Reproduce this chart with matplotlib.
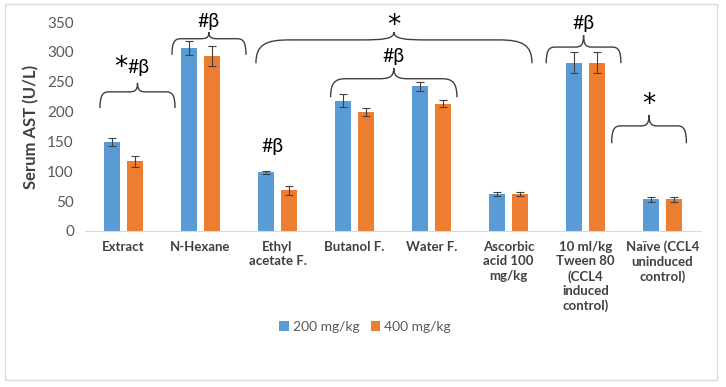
import matplotlib
matplotlib.use('Agg')
import matplotlib.pyplot as plt
from matplotlib.path import Path
from matplotlib.patches import PathPatch, Rectangle
import numpy as np

plt.rcParams['font.family'] = ['Lato', 'DejaVu Sans']

# data
groups = ['Extract', 'N-Hexane', 'Ethyl\nacetate F.', 'Butanol F.', 'Water F.',
          'Ascorbic\nacid 100\nmg/kg', '10 ml/kg\nTween 80\n(CCL4\ninduced\ncontrol)',
          'Naïve (CCL4\nuninduced\ncontrol)']
dose200 = [149, 307, 98, 218, 242, 62, 282, 53]
err200 = [7, 12, 3, 11, 7, 3, 17, 4]
dose400 = [117, 293, 68, 199, 213, 62, 282, 53]
err400 = [9, 16, 8, 7, 6, 3, 17, 4]
series_names = ['200 mg/kg', '400 mg/kg']

# braces: (x0, x1, leg end, flat line, tip)
braces = [(-0.305, 0.669, 206, 233, 248),
          (0.63, 1.59, 295, 322, 333),
          (1.72, 5.305, 281, 320, 333),
          (2.69, 4.33, 224, 255, 273),
          (5.49, 6.46, 281, 308, 328),
          (6.34, 7.31, 147, 176, 194)]
# significance marks: x, y, text
hash_marks = [(0.2, 273, '#β'), (1.11, 350, '#β'), (3.51, 292, '#β'),
              (5.97, 348, '#β'), (1.93, 141, '#β')]
star_marks = [(-0.03, 273), (3.51, 344), (6.82, 211)]

blue = '#5B9BD5'
orange = '#ED7D31'

fig = plt.figure(figsize=(7.26, 3.87), dpi=100)
ax = fig.add_axes([85 / 726, 156 / 387, 616 / 726, 209 / 387])

x = np.arange(len(groups))
w = 0.214
off = 0.146
ax.bar(x - off, dose200, w, color=blue, label=series_names[0], zorder=2)
ax.bar(x + off, dose400, w, color=orange, label=series_names[1], zorder=2)
ax.errorbar(x - off, dose200, yerr=err200, fmt='none', ecolor='#404040',
            elinewidth=0.8, capsize=3, capthick=0.8, zorder=3)
ax.errorbar(x + off, dose400, yerr=err400, fmt='none', ecolor='#404040',
            elinewidth=0.8, capsize=3, capthick=0.8, zorder=3)

ax.set_xlim(-0.5, len(groups) - 0.5)
ax.set_ylim(0, 350)
ax.set_yticks(np.arange(0, 351, 50))
ax.set_xticks(x)
ax.set_xticklabels(groups, fontsize=9.5, fontweight='bold', color='#404040',
                   linespacing=1.25)
ax.tick_params(axis='both', length=0)
ax.tick_params(axis='x', pad=7)
ax.tick_params(axis='y', labelsize=11, labelcolor='#595959', pad=8)
for s in ['top', 'right', 'left']:
    ax.spines[s].set_visible(False)
ax.spines['bottom'].set_color('#D9D9D9')
ax.set_ylabel('Serum AST (U/L)', fontsize=12, fontweight='bold', color='#404040',
              labelpad=6)


def brace(x0, x1, yb, yl, yt):
    xm = (x0 + x1) / 2
    q = (x1 - x0) * 0.12
    verts = [(x0, yb),
             (x0, yb + 0.8 * (yl - yb)), (x0 + q * 0.3, yl), (x0 + q, yl),
             (xm - q, yl),
             (xm - q * 0.35, yl), (xm, yl + 0.1 * (yt - yl)), (xm, yt),
             (xm, yl + 0.1 * (yt - yl)), (xm + q * 0.35, yl), (xm + q, yl),
             (x1 - q, yl),
             (x1 - q * 0.3, yl), (x1, yb + 0.8 * (yl - yb)), (x1, yb)]
    codes = [Path.MOVETO, Path.CURVE4, Path.CURVE4, Path.CURVE4, Path.LINETO,
             Path.CURVE4, Path.CURVE4, Path.CURVE4,
             Path.CURVE4, Path.CURVE4, Path.CURVE4, Path.LINETO,
             Path.CURVE4, Path.CURVE4, Path.CURVE4]
    ax.add_patch(PathPatch(Path(verts, codes), fill=False, edgecolor='#404040',
                           linewidth=1, clip_on=False))


for b in braces:
    brace(*b)
for (tx, ty, label) in hash_marks:
    ax.text(tx, ty, label, ha='center', va='center', fontsize=14, color='black',
            clip_on=False)
for (tx, ty) in star_marks:
    ax.text(tx, ty, '*', ha='center', va='center', fontsize=19, color='black',
            family='DejaVu Sans', clip_on=False)

fig.legend(loc='center', bbox_to_anchor=(365 / 726, 1 - 327 / 387), ncol=2,
           frameon=False, fontsize=10, labelcolor='#595959', handlelength=0.7,
           handleheight=0.7, handletextpad=0.3, columnspacing=0.8)

# outer frame
fig.patches.append(Rectangle((5 / 726, 7 / 387), 712 / 726, 376 / 387,
                             transform=fig.transFigure, fill=False,
                             edgecolor='#D9D9D9', linewidth=1))

fig.savefig('out.png', dpi=100)
